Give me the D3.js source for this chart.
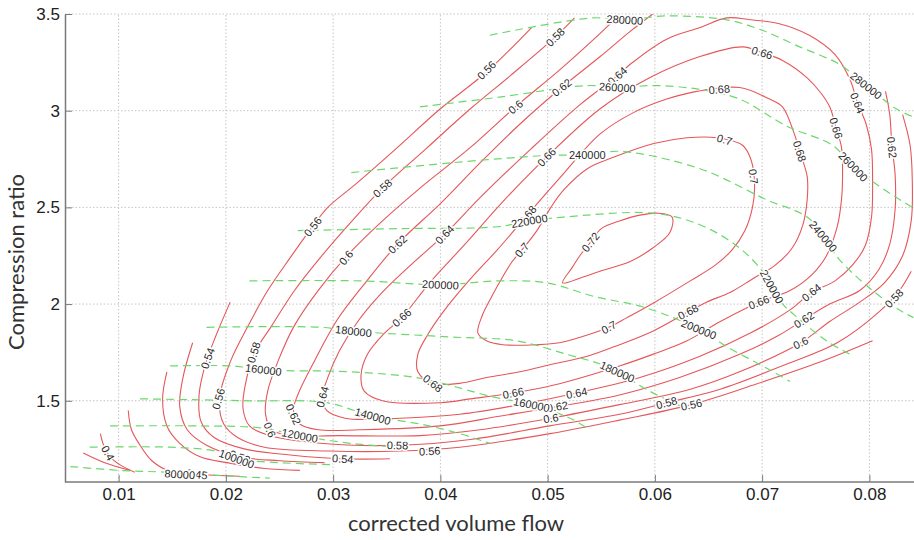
<!DOCTYPE html>
<html>
<head>
<meta charset="utf-8">
<script src="https://cdn.jsdelivr.net/npm/d3@7"></script>
<style>
  body { margin: 0; background: #fff; }
</style>
</head>
<body>
<script>
// Efficiency contours, points are [corrected volume flow, compression ratio]
const eff035 = [[0.0067,1.23],[0.0087,1.18],[0.0111,1.14]];
const eff040 = [[0.0083,1.33],[0.0086,1.27],[0.0092,1.21],[0.0101,1.17],[0.0115,1.13]];
const eff045 = [[0.0109,1.45],[0.0112,1.35],[0.0120,1.27],[0.0131,1.19],[0.0146,1.14],[0.0173,1.12],[0.0213,1.11]];
const eff050 = [[0.0145,1.65],[0.0141,1.51],[0.0145,1.37],[0.0157,1.28],[0.0176,1.21],[0.0201,1.18],[0.0236,1.15],[0.0269,1.14]];
const eff052 = [[0.0169,1.80],[0.0160,1.62],[0.0157,1.47],[0.0164,1.35],[0.0182,1.27],[0.0213,1.21],[0.0250,1.19],[0.0292,1.18]];
const eff054 = [[0.0204,2.01],[0.0191,1.84],[0.0181,1.69],[0.0175,1.53],[0.0177,1.39],[0.0189,1.31],[0.0218,1.25],[0.0260,1.22],[0.0309,1.20],[0.0353,1.20]];
const eff056 = [[0.0485,3.43],[0.0443,3.20],[0.0400,3.01],[0.0358,2.80],[0.0321,2.62],[0.0295,2.50],[0.0278,2.38],[0.0260,2.24],
  [0.0239,2.07],[0.0221,1.89],[0.0204,1.70],[0.0194,1.51],[0.0198,1.38],[0.0211,1.31],[0.0236,1.26],[0.0297,1.24],[0.0362,1.24],
  [0.0418,1.26],[0.0502,1.33],[0.0567,1.40],[0.0634,1.48],[0.0691,1.58],[0.0754,1.70],[0.0803,1.81]];
const eff058 = [[0.0525,3.48],[0.0507,3.38],[0.0465,3.18],[0.0428,3.01],[0.0386,2.80],[0.0346,2.60],[0.0316,2.42],[0.0288,2.24],
  [0.0264,2.07],[0.0243,1.89],[0.0227,1.75],[0.0218,1.58],[0.0216,1.46],[0.0222,1.37],[0.0241,1.32],[0.0288,1.28],[0.0362,1.27],
  [0.0428,1.30],[0.0502,1.37],[0.0567,1.43],[0.0611,1.49],[0.0661,1.56],[0.0723,1.69],[0.0770,1.80],[0.0809,1.96],[0.0828,2.07],[0.0839,2.17]];
const eff060 = [[0.0566,3.49],[0.0549,3.40],[0.0511,3.21],[0.0470,3.02],[0.0428,2.81],[0.0381,2.60],[0.0344,2.42],[0.0313,2.25],
  [0.0286,2.07],[0.0264,1.89],[0.0249,1.71],[0.0239,1.55],[0.0237,1.43],[0.0243,1.35],[0.0260,1.32],[0.0306,1.32],[0.0381,1.32],
  [0.0437,1.35],[0.0503,1.41],[0.0567,1.48],[0.0633,1.56],[0.0679,1.65],[0.0736,1.80],[0.0763,1.91],[0.0791,2.01],[0.0814,2.11],
  [0.0831,2.25],[0.0839,2.43],[0.0840,2.64],[0.0838,2.82],[0.0831,2.98]];
const eff062 = [[0.0598,3.50],[0.0577,3.41],[0.0549,3.28],[0.0513,3.12],[0.0474,2.93],[0.0437,2.73],[0.0400,2.52],[0.0360,2.31],
  [0.0330,2.11],[0.0304,1.92],[0.0283,1.71],[0.0267,1.53],[0.0263,1.45],[0.0269,1.38],[0.0286,1.35],[0.0325,1.35],[0.0400,1.37],
  [0.0455,1.42],[0.0509,1.47],[0.0567,1.53],[0.0623,1.62],[0.0679,1.74],[0.0716,1.84],[0.0739,1.92],[0.0763,2.00],[0.0791,2.07],
  [0.0809,2.18],[0.0819,2.31],[0.0824,2.49],[0.0824,2.67],[0.0821,2.82],[0.0819,2.98],[0.0815,3.10]];
const eff064 = [[0.0667,3.48],[0.0642,3.43],[0.0611,3.37],[0.0577,3.24],[0.0565,3.18],[0.0530,3.03],[0.0484,2.80],[0.0437,2.55],
  [0.0404,2.36],[0.0372,2.20],[0.0344,2.05],[0.0323,1.91],[0.0306,1.76],[0.0295,1.62],[0.0290,1.52],[0.0294,1.45],[0.0311,1.41],
  [0.0362,1.41],[0.0418,1.43],[0.0474,1.48],[0.0527,1.54],[0.0586,1.62],[0.0642,1.73],[0.0689,1.85],[0.0726,1.97],[0.0746,2.06],
  [0.0768,2.12],[0.0784,2.20],[0.0796,2.30],[0.0802,2.45],[0.0803,2.63],[0.0802,2.80],[0.0797,2.93],[0.0789,3.04],[0.0782,3.16],
  [0.0768,3.29],[0.0744,3.39],[0.0716,3.45],[0.0689,3.47]];
const eff066 = [[0.0400,1.49],[0.0346,1.50],[0.0329,1.55],[0.0326,1.63],[0.0332,1.74],[0.0348,1.85],[0.0364,1.93],[0.0390,2.11],
  [0.0423,2.31],[0.0460,2.54],[0.0499,2.76],[0.0549,3.01],[0.0595,3.17],[0.0642,3.28],[0.0682,3.33],[0.0700,3.30],[0.0719,3.26],
  [0.0742,3.17],[0.0755,3.09],[0.0763,3.02],[0.0769,2.91],[0.0774,2.81],[0.0775,2.68],[0.0774,2.54],[0.0770,2.40],[0.0760,2.25],
  [0.0746,2.15],[0.0726,2.07],[0.0697,2.01],[0.0661,1.91],[0.0630,1.81],[0.0598,1.74],[0.0567,1.68],[0.0505,1.58],[0.0468,1.54],[0.0428,1.51]];
const eff068 = [[0.0393,1.59],[0.0379,1.65],[0.0379,1.74],[0.0388,1.84],[0.0404,1.97],[0.0428,2.13],[0.0453,2.28],[0.0481,2.46],
  [0.0511,2.65],[0.0549,2.88],[0.0580,2.99],[0.0611,3.06],[0.0639,3.10],[0.0679,3.12],[0.0707,3.06],[0.0719,3.02],[0.0730,2.88],
  [0.0735,2.79],[0.0742,2.66],[0.0742,2.54],[0.0738,2.41],[0.0728,2.29],[0.0712,2.20],[0.0691,2.13],[0.0670,2.06],[0.0648,2.01],
  [0.0631,1.96],[0.0598,1.86],[0.0567,1.79],[0.0537,1.73],[0.0505,1.69],[0.0474,1.65],[0.0443,1.62],[0.0418,1.59]];
const eff070 = [[0.0435,1.85],[0.0439,1.94],[0.0448,2.04],[0.0458,2.14],[0.0467,2.22],[0.0476,2.28],[0.0490,2.38],[0.0503,2.50],
  [0.0515,2.59],[0.0537,2.70],[0.0562,2.76],[0.0599,2.83],[0.0630,2.86],[0.0658,2.86],[0.0682,2.82],[0.0690,2.74],[0.0693,2.61],
  [0.0691,2.50],[0.0684,2.38],[0.0672,2.28],[0.0656,2.20],[0.0633,2.12],[0.0600,2.01],[0.0574,1.93],[0.0557,1.88],[0.0537,1.84],
  [0.0511,1.80],[0.0490,1.79],[0.0458,1.79],[0.0443,1.81]];
const eff072 = [[0.0514,2.11],[0.0523,2.19],[0.0530,2.25],[0.0540,2.32],[0.0550,2.39],[0.0567,2.43],[0.0586,2.46],[0.0603,2.47],
  [0.0616,2.45],[0.0614,2.37],[0.0598,2.29],[0.0577,2.22],[0.0549,2.17],[0.0533,2.14]];

const effLevels = [0.35, 0.4, 0.45, 0.5, 0.52, 0.54, 0.56, 0.58, 0.6, 0.62, 0.64, 0.66, 0.68, 0.7, 0.72];
const effLines = [eff035, eff040, eff045, eff050, eff052, eff054, eff056, eff058, eff060, eff062, eff064, eff066, eff068, eff070, eff072];
const closedLevels = [0.64, 0.66, 0.68, 0.7, 0.72];

// Speed lines (dashed)
const spd080 = [[0.0055,1.16],[0.0101,1.14],[0.0148,1.13],[0.0204,1.11],[0.0241,1.10]];
const spd100 = [[0.0073,1.26],[0.0148,1.26],[0.0190,1.24],[0.0210,1.20],[0.0250,1.18],[0.0297,1.17]];
const spd120 = [[0.0092,1.37],[0.0176,1.37],[0.0232,1.36],[0.0269,1.32],[0.0316,1.28],[0.0362,1.26]];
const spd140 = [[0.0120,1.51],[0.0222,1.50],[0.0294,1.49],[0.0337,1.42],[0.0381,1.38],[0.0418,1.33],[0.0446,1.28]];
const spd160 = [[0.0148,1.68],[0.0207,1.68],[0.0235,1.66],[0.0316,1.65],[0.0378,1.62],[0.0402,1.59],[0.0449,1.52],[0.0485,1.48],[0.0521,1.41],[0.0539,1.35]];
const spd180 = [[0.0182,1.88],[0.0288,1.88],[0.0319,1.86],[0.0409,1.83],[0.0471,1.81],[0.0518,1.74],[0.0549,1.69],[0.0565,1.65],[0.0595,1.55],[0.0633,1.45]];
const spd200 = [[0.0222,2.12],[0.0325,2.12],[0.0400,2.10],[0.0455,2.12],[0.0499,2.11],[0.0543,2.04],[0.0592,1.98],[0.0641,1.87],[0.0667,1.78],[0.0707,1.66],[0.0726,1.60]];
const spd220 = [[0.0267,2.38],[0.0362,2.39],[0.0453,2.40],[0.0483,2.43],[0.0515,2.45],[0.0599,2.47],[0.0642,2.41],[0.0679,2.29],[0.0703,2.15],[0.0716,2.02],[0.0735,1.92],[0.0760,1.81],[0.0782,1.74]];
const spd240 = [[0.0317,2.68],[0.0409,2.73],[0.0505,2.77],[0.0537,2.77],[0.0567,2.79],[0.0642,2.70],[0.0704,2.54],[0.0742,2.45],[0.0757,2.35],[0.0772,2.23],[0.0803,2.07],[0.0828,1.97],[0.0841,1.93]];
const spd260 = [[0.0381,3.02],[0.0455,3.07],[0.0537,3.13],[0.0565,3.12],[0.0602,3.13],[0.0642,3.11],[0.0679,3.06],[0.0723,2.92],[0.0766,2.82],[0.0785,2.71],[0.0809,2.61],[0.0840,2.50]];
const spd280 = [[0.0446,3.39],[0.0542,3.48],[0.0572,3.47],[0.0611,3.49],[0.0667,3.47],[0.0698,3.42],[0.0735,3.33],[0.0772,3.24],[0.0797,3.13],[0.0825,3.01],[0.0840,2.97]];

const speedLevels = [80000, 100000, 120000, 140000, 160000, 180000, 200000, 220000, 240000, 260000, 280000];
const speedLines = [spd080, spd100, spd120, spd140, spd160, spd180, spd200, spd220, spd240, spd260, spd280];

// Inline labels: [level, flow, ratio]
const effLabels = [
  [0.4,0.0090,1.23],[0.45,0.0173,1.12],[0.52,0.0213,1.21],
  [0.54,0.0183,1.72],[0.54,0.0309,1.20],
  [0.56,0.0193,1.51],[0.56,0.0281,2.40],[0.56,0.0443,3.21],[0.56,0.0390,1.24],[0.56,0.0634,1.48],
  [0.58,0.0226,1.75],[0.58,0.0346,2.60],[0.58,0.0507,3.38],[0.58,0.0360,1.27],[0.58,0.0611,1.49],[0.58,0.0823,2.03],
  [0.6,0.0241,1.35],[0.6,0.0312,2.24],[0.6,0.0470,3.02],[0.6,0.0503,1.41],[0.6,0.0736,1.80],
  [0.62,0.0263,1.43],[0.62,0.0360,2.31],[0.62,0.0513,3.12],[0.62,0.0509,1.47],[0.62,0.0739,1.92],[0.62,0.0821,2.81],
  [0.64,0.0290,1.52],[0.64,0.0404,2.36],[0.64,0.0565,3.18],[0.64,0.0527,1.54],[0.64,0.0746,2.06],[0.64,0.0789,3.04],
  [0.66,0.0364,1.93],[0.66,0.0499,2.76],[0.66,0.0700,3.30],[0.66,0.0769,2.91],[0.66,0.0697,2.01],[0.66,0.0468,1.54],
  [0.68,0.0393,1.59],[0.68,0.0481,2.46],[0.68,0.0660,3.11],[0.68,0.0735,2.79],[0.68,0.0631,1.96],
  [0.7,0.0476,2.28],[0.7,0.0665,2.85],[0.7,0.0692,2.66],[0.7,0.0557,1.88],
  [0.72,0.0540,2.32]
];
const speedLabels = [
  [80000,0.0157,1.12],[100000,0.0210,1.20],[120000,0.0269,1.32],[140000,0.0337,1.42],
  [160000,0.0235,1.66],[160000,0.0485,1.48],[180000,0.0319,1.86],[180000,0.0565,1.65],
  [200000,0.0400,2.10],[200000,0.0641,1.87],[220000,0.0483,2.43],[220000,0.0709,2.09],
  [240000,0.0537,2.77],[240000,0.0757,2.35],[260000,0.0565,3.12],[260000,0.0785,2.71],
  [280000,0.0572,3.47],[280000,0.0797,3.13]
];

const xTicks = [0.01, 0.02, 0.03, 0.04, 0.05, 0.06, 0.07, 0.08];
const xTickLabels = ["0.01", "0.02", "0.03", "0.04", "0.05", "0.06", "0.07", "0.08"];
const yTicks = [1.5, 2, 2.5, 3, 3.5];
const yTickLabels = ["1.5", "2", "2.5", "3", "3.5"];

const width = 914, height = 540;

const x = d3.scaleLinear().domain([0.005, 0.085]).range([65, 923]);
const y = d3.scaleLinear().domain([1.08, 3.5]).range([482, 14]);

const svg = d3.select("body").append("svg")
  .attr("width", width)
  .attr("height", height)
  .style("font-family", "'Liberation Sans', Arial, sans-serif");

svg.append("defs").append("clipPath").attr("id", "plot")
  .append("rect")
  .attr("x", x.range()[0]).attr("y", y.range()[1])
  .attr("width", width - x.range()[0]).attr("height", y.range()[0] - y.range()[1]);

// grid
const grid = svg.append("g").attr("stroke", "#c4c4c4").attr("stroke-dasharray", "1.5,2").attr("stroke-width", 1);
grid.selectAll(".vx").data(xTicks).join("line")
  .attr("x1", d => x(d)).attr("x2", d => x(d))
  .attr("y1", y.range()[0]).attr("y2", y.range()[1]);
grid.selectAll(".hy").data(yTicks).join("line")
  .attr("x1", x.range()[0]).attr("x2", width)
  .attr("y1", d => y(d)).attr("y2", d => y(d));

const plot = svg.append("g").attr("clip-path", "url(#plot)");

const lineOpen = d3.line().x(d => x(d[0])).y(d => y(d[1])).curve(d3.curveCatmullRom.alpha(0.5));
const lineClosed = d3.line().x(d => x(d[0])).y(d => y(d[1])).curve(d3.curveCatmullRomClosed.alpha(0.5));

plot.selectAll(".eff").data(effLevels).join("path")
  .attr("class", "eff")
  .attr("fill", "none")
  .attr("stroke", "#e4575a")
  .attr("stroke-width", 1.1)
  .attr("d", (lv, i) => closedLevels.includes(lv) ? lineClosed(effLines[i]) : lineOpen(effLines[i]));

plot.selectAll(".spd").data(speedLevels).join("path")
  .attr("class", "spd")
  .attr("fill", "none")
  .attr("stroke", "#6cd86c")
  .attr("stroke-width", 1.2)
  .attr("stroke-dasharray", "8,5")
  .attr("d", (lv, i) => lineOpen(speedLines[i]));

// rotation of an inline label follows the nearest segment of its line
function labelAngle(pts, closed, fx, fr) {
  const px = x(fx), py = y(fr);
  const seq = closed ? pts.concat([pts[0]]) : pts;
  let best = [1, 0], bestD = Infinity;
  for (let i = 0; i < seq.length - 1; i++) {
    const ax = x(seq[i][0]), ay = y(seq[i][1]);
    const dx = x(seq[i + 1][0]) - ax, dy = y(seq[i + 1][1]) - ay;
    const t = Math.max(0, Math.min(1, ((px - ax) * dx + (py - ay) * dy) / (dx * dx + dy * dy)));
    const dd = Math.hypot(ax + t * dx - px, ay + t * dy - py);
    if (dd < bestD) { bestD = dd; best = [dx, dy]; }
  }
  let a = Math.atan2(best[1], best[0]) * 180 / Math.PI;
  if (a > 90) a -= 180;
  if (a <= -90) a += 180;
  return a;
}

const labels = svg.append("g").attr("clip-path", "url(#plot)")
  .attr("font-size", 11).attr("fill", "#2a2a2a")
  .attr("text-anchor", "middle").attr("dominant-baseline", "central");

labels.selectAll(".el").data(effLabels).join("text")
  .attr("class", "el")
  .attr("transform", d => {
    const i = effLevels.indexOf(d[0]);
    const a = labelAngle(effLines[i], closedLevels.includes(d[0]), d[1], d[2]);
    return `translate(${x(d[1])},${y(d[2])}) rotate(${a})`;
  })
  .attr("stroke", "#fff").attr("stroke-width", 3).attr("paint-order", "stroke")
  .text(d => String(d[0]));

labels.selectAll(".sl").data(speedLabels).join("text")
  .attr("class", "sl")
  .attr("transform", d => {
    const i = speedLevels.indexOf(d[0]);
    const a = labelAngle(speedLines[i], false, d[1], d[2]);
    return `translate(${x(d[1])},${y(d[2])}) rotate(${a})`;
  })
  .attr("stroke", "#fff").attr("stroke-width", 3).attr("paint-order", "stroke")
  .text(d => String(d[0]));

// axes (ticks point inward)
const xAxis = svg.append("g")
  .attr("transform", `translate(0,${y.range()[0]})`)
  .call(d3.axisBottom(x).tickValues(xTicks).tickFormat((d, i) => xTickLabels[i])
    .tickSize(-7).tickSizeOuter(0).tickPadding(6));
const yAxis = svg.append("g")
  .attr("transform", `translate(${x.range()[0]},0)`)
  .call(d3.axisLeft(y).tickValues(yTicks).tickFormat((d, i) => yTickLabels[i])
    .tickSize(-7).tickSizeOuter(0).tickPadding(5));

[xAxis, yAxis].forEach(g => {
  g.select(".domain").attr("stroke", "#7a7a7a").attr("stroke-width", 1.5);
  g.selectAll(".tick line").attr("stroke", "#7a7a7a");
  g.selectAll(".tick text").attr("fill", "#222").attr("font-size", 17)
    .attr("font-family", "'Liberation Sans', Arial, sans-serif");
});
xAxis.select(".domain").attr("d", `M${x.range()[0]},0H${width}`);

svg.append("text")
  .attr("x", 456).attr("y", 531)
  .attr("text-anchor", "middle")
  .attr("font-family", "Lato, 'Open Sans', sans-serif")
  .attr("font-size", 22).attr("fill", "#333")
  .text("corrected volume flow");

svg.append("text")
  .attr("transform", "translate(24,262) rotate(-90)")
  .attr("text-anchor", "middle")
  .attr("font-family", "Lato, 'Open Sans', sans-serif")
  .attr("font-size", 22).attr("fill", "#333")
  .text("Compression ratio");
</script>
</body>
</html>
